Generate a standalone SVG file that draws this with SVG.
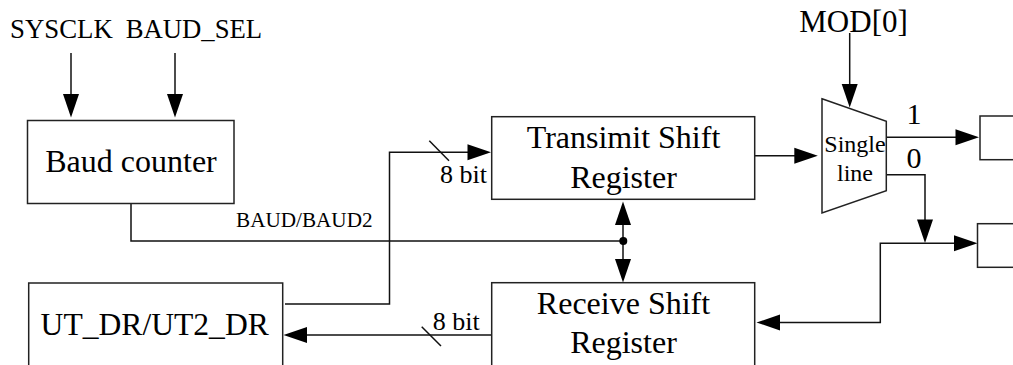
<svg xmlns="http://www.w3.org/2000/svg" width="1013" height="365" viewBox="0 0 1013 365">
<defs>
<style>
text{font-family:"Liberation Serif","Times New Roman",serif;fill:#000}
.box{fill:#fff;stroke:#222;stroke-width:1.5}
.w{fill:none;stroke:#111;stroke-width:1.5}
.a{fill:#000;stroke:none}
.t32{font-size:32px;text-anchor:middle}
.t26{font-size:26px}
</style>
<polygon id="ah" class="a" points="0,0 -23.500,-8 -23.500,8"/>
</defs>
<rect width="1013" height="365" fill="#fff"/>
<g id="connectors">
<path class="w" d="M71 53V95"/><use href="#ah" transform="translate(71,117.500) rotate(90)"/>
<path class="w" d="M175 53V95"/><use href="#ah" transform="translate(175,117.500) rotate(90)"/>
<path class="w" d="M131 204V241H623"/>
<path class="w" d="M623 225V259"/>
<use href="#ah" transform="translate(623,201.500) rotate(-90)"/>
<use href="#ah" transform="translate(623,282.500) rotate(90)"/>
<circle cx="623.300" cy="241" r="4" fill="#000"/>
<path class="w" d="M285 304H389.500V152.300H470"/>
<use href="#ah" transform="translate(491,152.300)"/>
<path class="w" d="M429.300 140.700L449 160.700"/>
<path class="w" d="M491.500 335H305"/>
<use href="#ah" transform="translate(283.500,335) rotate(180)"/>
<path class="w" d="M421.700 326.700L441 346"/>
<path class="w" d="M755 155.700H796"/>
<use href="#ah" transform="translate(817.800,155.700)"/>
<path class="w" d="M849.700 33V86"/>
<use href="#ah" transform="translate(849.700,107.500) rotate(90)"/>
<path class="w" d="M886.300 137.300H957"/>
<use href="#ah" transform="translate(979,137.300)"/>
<path class="w" d="M886.300 174.800H925V222"/>
<use href="#ah" transform="translate(925,243) rotate(90)"/>
<path class="w" d="M779 322.500H880.300V243.200H956"/>
<use href="#ah" transform="translate(977.500,243.200)"/>
<use href="#ah" transform="translate(756.500,322.500) rotate(180)"/>
</g>
<g id="labels">
<text x="10" y="38" font-size="26.800">SYSCLK</text>
<text x="125.700" y="38" font-size="26.700">BAUD_SEL</text>
<text x="236" y="226.700" font-size="21.200">BAUD/BAUD2</text>
<text x="440" y="182.700" class="t26">8 bit</text>
<text x="432.700" y="330" class="t26">8 bit</text>
<text x="799.300" y="32.300" font-size="31">MOD[0]</text>
<text x="906.500" y="124" font-size="30">1</text>
<text x="906.500" y="168.300" font-size="30">0</text>
</g>
<g id="baud-counter"><rect class="box" x="27.500" y="120.500" width="206.500" height="83"/><text class="t32" x="131" y="171.700">Baud counter</text></g>
<g id="transmit-shift-register"><rect class="box" x="491.700" y="116.700" width="263" height="82.600"/><text class="t32" x="623.500" y="148.300">Transimit Shift</text><text class="t32" x="623.500" y="188">Register</text></g>
<g id="receive-shift-register"><rect class="box" x="491.700" y="282.700" width="263" height="100"/><text class="t32" x="623.500" y="314">Receive Shift</text><text class="t32" x="623.500" y="353">Register</text></g>
<g id="ut-dr"><rect class="box" x="28.700" y="283" width="254" height="100"/><text class="t32" x="154.700" y="334.500" style="font-size:31.600px">UT_DR/UT2_DR</text></g>
<g id="mux"><polygon class="box" points="822,98.700 886.300,121.300 886.300,190.700 822,213"/><text x="855" y="151.700" font-size="24" text-anchor="middle">Single</text><text x="855" y="180.700" font-size="24" text-anchor="middle">line</text></g>
<g id="output-1"><rect class="box" x="980" y="116" width="60" height="43.700"/></g>
<g id="output-0"><rect class="box" x="977.500" y="223.700" width="60" height="43.600"/></g>
</svg>
